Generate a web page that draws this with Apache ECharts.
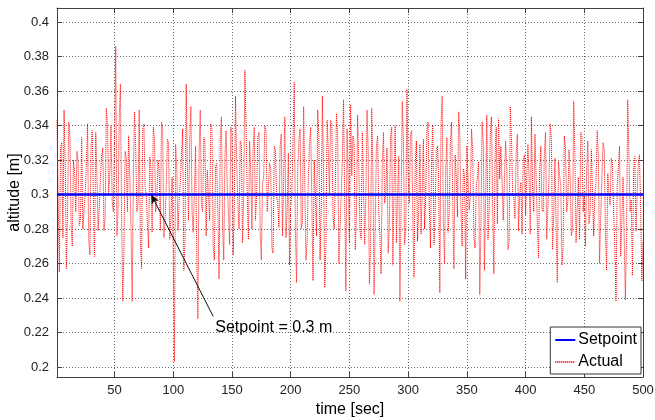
<!DOCTYPE html>
<html>
<head>
<meta charset="utf-8">
<script src="https://cdn.jsdelivr.net/npm/echarts@6/dist/echarts.min.js"></script>
<style>
  html, body { margin: 0; padding: 0; background: #fff; }
  #chart { width: 655px; height: 420px; }
</style>
</head>
<body>
<div id="chart"></div>
<script>
// ---- data ----
const xTicks = [50, 100, 150, 200, 250, 300, 350, 400, 450, 500];
const yTicks = [0.2, 0.22, 0.24, 0.26, 0.28, 0.3, 0.32, 0.34, 0.36, 0.38, 0.4];
const timeStart = 1;      // first sample [sec]
const timeEnd = 500;
const setpointValue = 0.3;
// altitude readings at odd seconds (1, 3, 5, ... 499)
const actualOddSeconds = [
  0.343, 0.255, 0.33, 0.349, 0.257, 0.342, 0.283, 0.32, 0.29, 0.318,
  0.286, 0.28, 0.30, 0.341, 0.265, 0.337, 0.264, 0.31, 0.292, 0.322,
  0.279, 0.35, 0.30, 0.34, 0.29, 0.386, 0.29, 0.364, 0.238, 0.325,
  0.29, 0.31, 0.238, 0.348, 0.29, 0.349, 0.257, 0.341, 0.30, 0.269,
  0.315, 0.339, 0.29, 0.32, 0.279, 0.338, 0.285, 0.332, 0.274, 0.31,
  0.203, 0.315, 0.295, 0.322, 0.256, 0.364, 0.285, 0.351, 0.278, 0.328,
  0.228, 0.349, 0.29, 0.33,
  0.314, 0.285, 0.337, 0.262, 0.318, 0.251, 0.345, 0.262, 0.337, 0.29,
  0.339, 0.265, 0.357, 0.295, 0.331, 0.272, 0.372, 0.30, 0.331, 0.28,
  0.339, 0.30, 0.336, 0.262, 0.31, 0.337, 0.29, 0.315, 0.266, 0.326,
  0.295, 0.328, 0.276, 0.345, 0.29, 0.259, 0.30, 0.365, 0.249, 0.331,
  0.28, 0.351, 0.262, 0.31, 0.339, 0.25, 0.30, 0.349, 0.262, 0.357,
  0.246, 0.343, 0.30, 0.341, 0.28, 0.347, 0.26, 0.30, 0.355, 0.244,
  0.31, 0.352, 0.334,
  0.268, 0.346, 0.279, 0.336, 0.271, 0.349, 0.248, 0.35, 0.242, 0.328,
  0.29, 0.254, 0.336, 0.30, 0.266, 0.333, 0.259, 0.34, 0.30, 0.238,
  0.354, 0.271, 0.361, 0.295, 0.337, 0.252, 0.331, 0.29, 0.277, 0.332,
  0.30, 0.342, 0.269, 0.34, 0.29, 0.328, 0.243, 0.357, 0.26, 0.333,
  0.29, 0.342, 0.257, 0.31, 0.348, 0.29, 0.315, 0.251, 0.327, 0.30,
  0.325, 0.269, 0.31, 0.242, 0.342, 0.256, 0.346, 0.29, 0.345, 0.254,
  0.339, 0.344,
  0.328, 0.285, 0.331, 0.268, 0.351, 0.30, 0.286, 0.335, 0.30, 0.277,
  0.323, 0.287, 0.31, 0.345, 0.29, 0.31, 0.263, 0.328, 0.29, 0.336,
  0.274, 0.341, 0.268, 0.321, 0.249, 0.311, 0.259, 0.334, 0.29, 0.326,
  0.276, 0.354, 0.272, 0.31, 0.336, 0.29, 0.27, 0.331, 0.29, 0.325,
  0.30, 0.337, 0.26, 0.31, 0.326, 0.256, 0.30, 0.321, 0.29, 0.238,
  0.315, 0.264, 0.31, 0.239, 0.355, 0.29, 0.253, 0.322, 0.30, 0.323,
  0.25
];
// altitude readings at even seconds (2, 4, 6, ... 500)
const actualEvenSeconds = [
  0.296, 0.327, 0.275, 0.319, 0.29, 0.334, 0.27, 0.313, 0.325, 0.282,
  0.333, 0.291, 0.317, 0.274, 0.329, 0.298, 0.336, 0.279, 0.31, 0.327,
  0.286, 0.34, 0.314, 0.296, 0.331, 0.276, 0.345, 0.289, 0.268, 0.321,
  0.334, 0.281, 0.309, 0.328, 0.294, 0.272, 0.338, 0.305, 0.283, 0.322,
  0.278, 0.332, 0.297, 0.314, 0.342, 0.275, 0.304, 0.33, 0.286, 0.266,
  0.329, 0.279, 0.308, 0.338, 0.272, 0.317, 0.331, 0.29, 0.302, 0.266,
  0.326, 0.294, 0.333, 0.276, 0.313, 0.341, 0.27, 0.316, 0.29, 0.331,
  0.282, 0.322, 0.304, 0.271, 0.336, 0.293, 0.319, 0.28, 0.329, 0.30,
  0.339, 0.274, 0.313, 0.326, 0.285, 0.333, 0.278, 0.306, 0.34, 0.29,
  0.318, 0.269, 0.328, 0.299, 0.281, 0.335, 0.309, 0.275, 0.324, 0.293,
  0.332, 0.279, 0.315, 0.338, 0.284, 0.308, 0.273, 0.329, 0.297, 0.32,
  0.276, 0.334, 0.292, 0.311, 0.27, 0.326, 0.343, 0.288, 0.306, 0.333,
  0.28, 0.32, 0.297, 0.338, 0.272, 0.311, 0.33, 0.289, 0.316, 0.274,
  0.336, 0.299, 0.324, 0.268, 0.313, 0.284, 0.334, 0.275, 0.318, 0.295,
  0.327, 0.281, 0.339, 0.305, 0.272, 0.322, 0.292, 0.332, 0.279, 0.312,
  0.335, 0.288, 0.316, 0.273, 0.329, 0.301, 0.28, 0.337, 0.293, 0.32,
  0.271, 0.326, 0.307, 0.341, 0.285, 0.313, 0.278, 0.331, 0.296, 0.323,
  0.287, 0.334, 0.27, 0.311, 0.328, 0.291, 0.338, 0.275, 0.305, 0.319,
  0.281, 0.33, 0.299, 0.274, 0.336, 0.292, 0.321, 0.283, 0.309, 0.329,
  0.285, 0.316, 0.272, 0.333, 0.298, 0.324, 0.279, 0.307, 0.32, 0.288,
  0.329, 0.277, 0.303, 0.335, 0.283, 0.313, 0.292, 0.324, 0.274, 0.31,
  0.332, 0.289, 0.281, 0.319, 0.305, 0.27, 0.327, 0.296, 0.309, 0.28,
  0.323, 0.292, 0.274, 0.333, 0.301, 0.314, 0.283, 0.326, 0.276, 0.307,
  0.321, 0.288, 0.33, 0.279, 0.312, 0.294, 0.318, 0.271, 0.305, 0.328,
  0.284, 0.311, 0.276, 0.323, 0.297, 0.314, 0.279, 0.318, 0.292, 0.273
];
const annotationText = 'Setpoint = 0.3 m';
const arrowTail = [134, 0.2293];
const arrowHead = [81.3, 0.2999];
const annotationAnchor = [135.8, 0.2231];

// ---- build ----
const actualPairs = [];
for (let i = 0; i < actualOddSeconds.length; i++) {
  actualPairs.push([2 * i + 1, actualOddSeconds[i]]);
  if (i < actualEvenSeconds.length) actualPairs.push([2 * i + 2, actualEvenSeconds[i]]);
}
const setpointPairs = [[timeStart, setpointValue], [timeEnd, setpointValue]];

const font = 'Liberation Sans, Arial, Helvetica, sans-serif';
const axisColor = '#404040';
const gridStyle = { type: [1, 2], color: '#6a6a6a', width: 1 };

function fmt(v) { return String(+(+v).toFixed(2)); }

const chart = echarts.init(document.getElementById('chart'), null, { renderer: 'canvas' });
chart.setOption({
  animation: false,
  backgroundColor: '#ffffff',
  textStyle: { fontFamily: font },
  grid: { left: 57, right: 12, top: 8, bottom: 43, containLabel: false, outerBoundsMode: 'none' },
  legend: {
    data: ['Setpoint', 'Actual'],
    orient: 'vertical',
    right: 14,
    bottom: 46,
    itemWidth: 20,
    itemHeight: 12,
    itemGap: 6,
    padding: [5, 4, 4, 4],
    backgroundColor: '#ffffff',
    borderColor: '#333333',
    borderWidth: 1,
    borderRadius: 0,
    itemStyle: { opacity: 0, borderWidth: 0 },
    textStyle: { fontSize: 16, color: '#000', fontFamily: font, padding: [0, 0, 0, -2] }
  },
  xAxis: [{
    type: 'value', min: timeStart, max: timeEnd,
    name: 'time [sec]', nameLocation: 'middle', nameGap: 25, nameMoveOverlap: false,
    nameTextStyle: { fontSize: 16, color: '#000', fontFamily: font },
    axisLine: { show: true, onZero: false, lineStyle: { color: axisColor, width: 1 } },
    axisTick: { show: true, inside: true, length: 5, customValues: xTicks, lineStyle: { color: axisColor } },
    axisLabel: { customValues: xTicks, fontSize: 13, color: '#222', margin: 7, formatter: fmt },
    splitLine: { show: true, customValues: xTicks, lineStyle: gridStyle }
  }, {
    type: 'value', min: timeStart, max: timeEnd, position: 'top',
    axisLine: { show: true, onZero: false, lineStyle: { color: axisColor, width: 1 } },
    axisTick: { show: true, inside: true, length: 5, customValues: xTicks, lineStyle: { color: axisColor } },
    axisLabel: { show: false },
    splitLine: { show: false }
  }],
  yAxis: [{
    type: 'value', min: 0.1942, max: 0.4081,
    name: 'altitude [m]', nameLocation: 'middle', nameGap: 34, nameRotate: 90, nameMoveOverlap: false,
    nameTextStyle: { fontSize: 16, color: '#000', fontFamily: font },
    axisLine: { show: true, onZero: false, lineStyle: { color: axisColor, width: 1 } },
    axisTick: { show: true, inside: true, length: 5, customValues: yTicks, lineStyle: { color: axisColor } },
    axisLabel: { customValues: yTicks, fontSize: 13, color: '#222', margin: 8, formatter: fmt },
    splitLine: { show: true, customValues: yTicks, lineStyle: gridStyle }
  }, {
    type: 'value', min: 0.1942, max: 0.4081, position: 'right',
    axisLine: { show: true, onZero: false, lineStyle: { color: axisColor, width: 1 } },
    axisTick: { show: true, inside: true, length: 5, customValues: yTicks, lineStyle: { color: axisColor } },
    axisLabel: { show: false },
    splitLine: { show: false }
  }],
  series: [{
    name: 'Actual',
    type: 'line',
    data: actualPairs,
    symbol: 'none',
    showSymbol: false,
    clip: true,
    z: 2,
    itemStyle: { color: '#ff0000' },
    lineStyle: { color: '#ff0000', width: 1, type: [1, 1] }
  }, {
    name: 'Setpoint',
    type: 'line',
    data: setpointPairs,
    symbol: 'none',
    showSymbol: false,
    z: 3,
    itemStyle: { color: '#0000ff' },
    lineStyle: { color: '#0000ff', width: 2.5 },
    markLine: {
      silent: true,
      symbol: ['none', 'arrow'],
      symbolSize: [6, 9],
      label: { show: false },
      lineStyle: { color: '#111', width: 1, type: 'solid' },
      data: [[{ coord: arrowTail }, { coord: arrowHead }]]
    },
    markPoint: {
      silent: true,
      symbol: 'rect',
      symbolSize: 1,
      itemStyle: { color: 'rgba(0,0,0,0)' },
      label: {
        show: true, position: 'inside', align: 'left', verticalAlign: 'middle',
        fontSize: 16, color: '#000', fontFamily: font,
        formatter: annotationText
      },
      data: [{ coord: annotationAnchor }]
    }
  }]
});
</script>
</body>
</html>
